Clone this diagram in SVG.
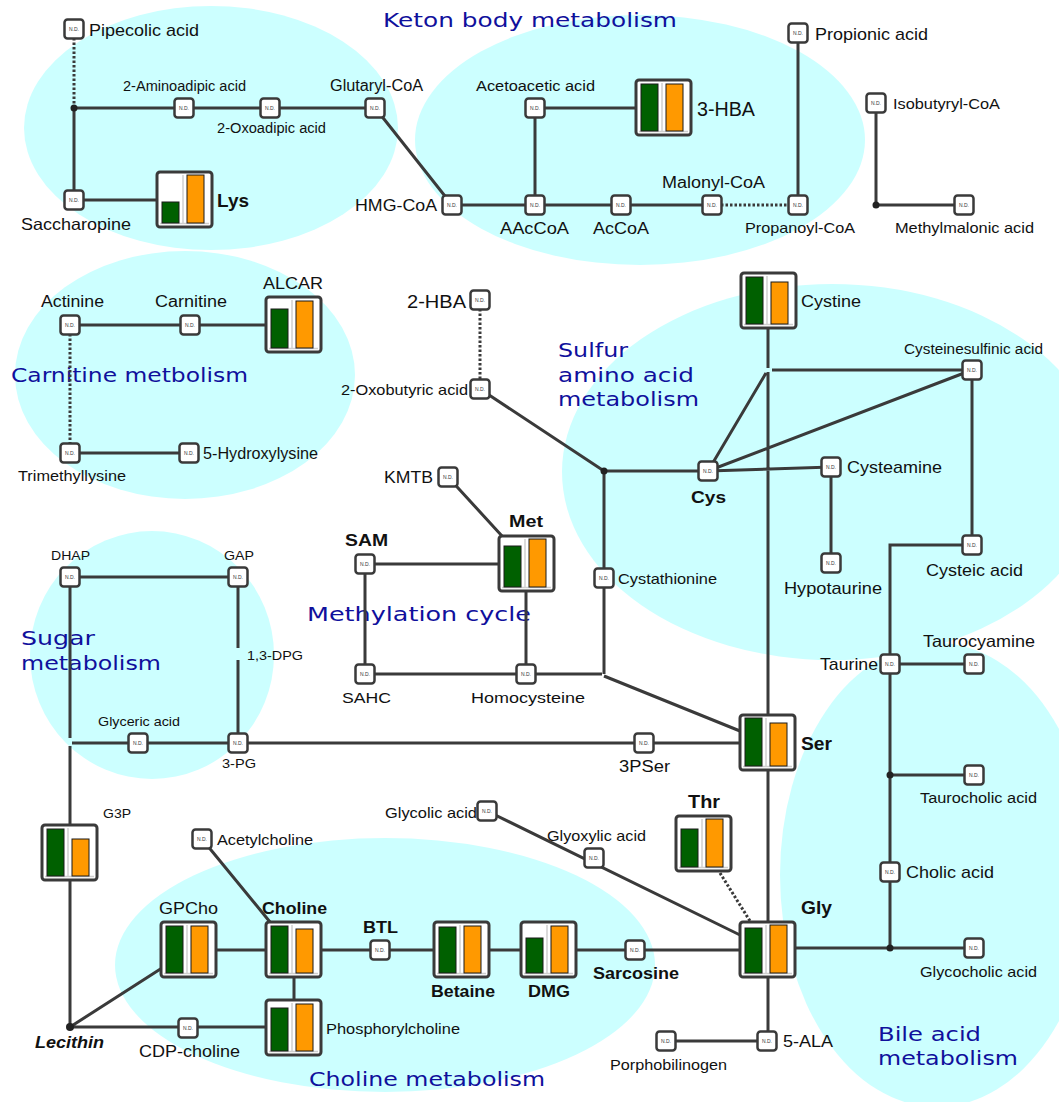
<svg xmlns="http://www.w3.org/2000/svg" xmlns:xlink="http://www.w3.org/1999/xlink" width="1059" height="1102" viewBox="0 0 1059 1102">
<style>
.ell{fill:#ccffff}
.reg{font-family:"DejaVu Sans",sans-serif;fill:#10109c;font-size:19px}
.ln{stroke:#3a3a3a;stroke-width:3;fill:none}
.dt{stroke-dasharray:2.5 2}
.ndr{fill:#fff;stroke:#3a3a3a;stroke-width:2.5}
.ndt{font-family:"Liberation Sans",Arial,sans-serif;font-size:5px;fill:#333;text-anchor:middle}
.lbl{font-family:"Liberation Sans",Arial,sans-serif;fill:#111}
.b{font-weight:bold}
.fr{fill:#fff;stroke:#3a3a3a;stroke-width:3}
.sep{stroke:#cfcfcf;stroke-width:1.5}
.gb{fill:#006000;stroke:#1a1a1a;stroke-width:1}
.ob{fill:#ff9900;stroke:#1a1a1a;stroke-width:1}
.jd{fill:#222}
</style>
<defs>
<g id="nd"><rect class="ndr" x="-9.5" y="-9.5" width="19" height="19" rx="3"/><text class="ndt" y="1.8">N.D.</text></g>
<g id="fr"><rect class="fr" x="0" y="0" width="55" height="55" rx="3"/><line class="sep" x1="26" y1="3" x2="26" y2="51"/><line class="sep" x1="3" y1="51.5" x2="52" y2="51.5"/></g>
</defs>
<rect width="1059" height="1102" fill="#fff"/>
<g id="regions">
<ellipse class="ell" cx="211" cy="128" rx="187" ry="122"/>
<ellipse class="ell" cx="640" cy="140" rx="225" ry="125"/>
<ellipse class="ell" cx="185" cy="375" rx="170" ry="124"/>
<ellipse class="ell" cx="832" cy="472" rx="270" ry="188"/>
<ellipse class="ell" cx="152" cy="655" rx="122" ry="124"/>
<ellipse class="ell" cx="385" cy="965" rx="270" ry="127"/>
<ellipse class="ell" cx="937" cy="875" rx="157" ry="232"/>
<text class="reg" x="383" y="27" textLength="294" lengthAdjust="spacingAndGlyphs">Keton body metabolism</text>
<text class="reg" x="11" y="382" textLength="237" lengthAdjust="spacingAndGlyphs">Carnitine metbolism</text>
<text class="reg" x="558" y="357" textLength="70" lengthAdjust="spacingAndGlyphs">Sulfur</text>
<text class="reg" x="558" y="382" textLength="136" lengthAdjust="spacingAndGlyphs">amino acid</text>
<text class="reg" x="558" y="406" textLength="141" lengthAdjust="spacingAndGlyphs">metabolism</text>
<text class="reg" x="307" y="621" textLength="224" lengthAdjust="spacingAndGlyphs">Methylation cycle</text>
<text class="reg" x="21" y="645" textLength="74" lengthAdjust="spacingAndGlyphs">Sugar</text>
<text class="reg" x="21" y="670" textLength="140" lengthAdjust="spacingAndGlyphs">metabolism</text>
<text class="reg" x="309" y="1086" textLength="236" lengthAdjust="spacingAndGlyphs">Choline metabolism</text>
<text class="reg" x="878" y="1041" textLength="103" lengthAdjust="spacingAndGlyphs">Bile acid</text>
<text class="reg" x="878" y="1065" textLength="140" lengthAdjust="spacingAndGlyphs">metabolism</text>
</g>
<g id="connectors">
<path class="ln dt" d="M74 38V108"/>
<path class="ln" d="M74 108H375M74 108V200H157M380 114L452 205H712"/>
<path class="ln dt" d="M712 205H798"/>
<path class="ln" d="M535 205V108H636M798 33V205M876 103V205H964"/>
<path class="ln" d="M70 325H266"/>
<path class="ln dt" d="M70 334V444"/>
<path class="ln" d="M70 453H189"/>
<path class="ln dt" d="M480 309V380"/>
<path class="ln" d="M480 389L604 471H708M604 471V674M526 674H602M365 674H526M365 564H499M365 564V674M526 591V674M448 477L502 536M604 676L740 731"/>
<path class="ln" d="M768 329V368M768 372V715M772 370H972M766 373L708 471L972 370M708 471L831 467V563M972 370V545H890V948M890 664H974M890 775H974M795 948H974"/>
<path class="ln" d="M70 577H238V648M238 660V743M70 577V738M72 743H740M70 746V825M70 880V1027L162 968M70 1027H266M216 950H266M294 977V1000M202 839L270 922M321 950H434M489 950H521M576 950H740M487 811L740 935M768 770V922M768 977V1041H666"/>
<path class="ln dt" d="M720 873L750 921"/>
<circle class="jd" cx="74" cy="108" r="3.5"/>
<circle class="jd" cx="876" cy="205" r="3.5"/>
<circle class="jd" cx="604" cy="471" r="3.5"/>
<circle class="jd" cx="890" cy="775" r="3.5"/>
<circle class="jd" cx="890" cy="948" r="3.5"/>
<circle class="jd" cx="70" cy="1027" r="4"/>
</g>
<g id="n-pipecolic"><use xlink:href="#nd" x="74" y="29"/><text class="lbl" x="89" y="36" font-size="17" textLength="110" lengthAdjust="spacingAndGlyphs">Pipecolic acid</text></g>
<g id="n-aminoadipic"><use xlink:href="#nd" x="184" y="108"/><text class="lbl" x="123" y="91" font-size="14" textLength="123" lengthAdjust="spacingAndGlyphs">2-Aminoadipic acid</text></g>
<g id="n-oxoadipic"><use xlink:href="#nd" x="270" y="108"/><text class="lbl" x="217" y="133" font-size="14" textLength="109" lengthAdjust="spacingAndGlyphs">2-Oxoadipic acid</text></g>
<g id="n-glutaryl"><use xlink:href="#nd" x="375" y="108"/><text class="lbl" x="330" y="91" font-size="16" textLength="93" lengthAdjust="spacingAndGlyphs">Glutaryl-CoA</text></g>
<g id="n-saccharopine"><use xlink:href="#nd" x="74" y="200"/><text class="lbl" x="21" y="230" font-size="16.5" textLength="110" lengthAdjust="spacingAndGlyphs">Saccharopine</text></g>
<g id="n-lys"><use xlink:href="#fr" x="157" y="172"/><rect class="gb" x="162" y="202" width="17" height="21"/><rect class="ob" x="187" y="175" width="17" height="48"/><text class="lbl b" x="217" y="207" font-size="18" textLength="32" lengthAdjust="spacingAndGlyphs">Lys</text></g>
<g id="n-hmgcoa"><use xlink:href="#nd" x="452" y="205"/><text class="lbl" x="355" y="211" font-size="16.5" textLength="82" lengthAdjust="spacingAndGlyphs">HMG-CoA</text></g>
<g id="n-acetoacetic"><use xlink:href="#nd" x="535" y="108"/><text class="lbl" x="476" y="91" font-size="15.5" textLength="119" lengthAdjust="spacingAndGlyphs">Acetoacetic acid</text></g>
<g id="n-3hba"><use xlink:href="#fr" x="636" y="80"/><rect class="gb" x="641" y="84" width="17" height="47"/><rect class="ob" x="666" y="84" width="17" height="47"/><text class="lbl" x="697" y="116" font-size="20" textLength="58" lengthAdjust="spacingAndGlyphs">3-HBA</text></g>
<g id="n-aaccoa"><use xlink:href="#nd" x="535" y="205"/><text class="lbl" x="500" y="234" font-size="16.5" textLength="69" lengthAdjust="spacingAndGlyphs">AAcCoA</text></g>
<g id="n-accoa"><use xlink:href="#nd" x="621" y="205"/><text class="lbl" x="593" y="234" font-size="16.5" textLength="56" lengthAdjust="spacingAndGlyphs">AcCoA</text></g>
<g id="n-malonyl"><use xlink:href="#nd" x="712" y="205"/><text class="lbl" x="662" y="188" font-size="16" textLength="103" lengthAdjust="spacingAndGlyphs">Malonyl-CoA</text></g>
<g id="n-propanoyl"><use xlink:href="#nd" x="798" y="205"/><text class="lbl" x="745" y="233" font-size="15" textLength="110" lengthAdjust="spacingAndGlyphs">Propanoyl-CoA</text></g>
<g id="n-propionic"><use xlink:href="#nd" x="798" y="33"/><text class="lbl" x="815" y="40" font-size="17" textLength="113" lengthAdjust="spacingAndGlyphs">Propionic acid</text></g>
<g id="n-isobutyryl"><use xlink:href="#nd" x="876" y="103"/><text class="lbl" x="893" y="109" font-size="15" textLength="107" lengthAdjust="spacingAndGlyphs">Isobutyryl-CoA</text></g>
<g id="n-methylmalonic"><use xlink:href="#nd" x="964" y="205"/><text class="lbl" x="895" y="233" font-size="15" textLength="139" lengthAdjust="spacingAndGlyphs">Methylmalonic acid</text></g>
<g id="n-actinine"><use xlink:href="#nd" x="70" y="325"/><text class="lbl" x="41" y="307" font-size="16" textLength="63" lengthAdjust="spacingAndGlyphs">Actinine</text></g>
<g id="n-carnitine"><use xlink:href="#nd" x="190" y="325"/><text class="lbl" x="155" y="307" font-size="16" textLength="72" lengthAdjust="spacingAndGlyphs">Carnitine</text></g>
<g id="n-alcar"><use xlink:href="#fr" x="266" y="297"/><rect class="gb" x="271" y="309" width="17" height="39"/><rect class="ob" x="296" y="301" width="17" height="47"/><text class="lbl" x="263" y="289" font-size="16.5" textLength="60" lengthAdjust="spacingAndGlyphs">ALCAR</text></g>
<g id="n-trimethyllysine"><use xlink:href="#nd" x="70" y="453"/><text class="lbl" x="18" y="481" font-size="15" textLength="108" lengthAdjust="spacingAndGlyphs">Trimethyllysine</text></g>
<g id="n-hydroxylysine"><use xlink:href="#nd" x="189" y="453"/><text class="lbl" x="203" y="459" font-size="16" textLength="115" lengthAdjust="spacingAndGlyphs">5-Hydroxylysine</text></g>
<g id="n-2hba"><use xlink:href="#nd" x="480" y="300"/><text class="lbl" x="407" y="308" font-size="17.5" textLength="59" lengthAdjust="spacingAndGlyphs">2-HBA</text></g>
<g id="n-oxobutyric"><use xlink:href="#nd" x="480" y="389"/><text class="lbl" x="341" y="395" font-size="15" textLength="127" lengthAdjust="spacingAndGlyphs">2-Oxobutyric acid</text></g>
<g id="n-kmtb"><use xlink:href="#nd" x="448" y="477"/><text class="lbl" x="384" y="483" font-size="16.5" textLength="49" lengthAdjust="spacingAndGlyphs">KMTB</text></g>
<g id="n-sam"><use xlink:href="#nd" x="365" y="564"/><text class="lbl b" x="345" y="546" font-size="16.5" textLength="43" lengthAdjust="spacingAndGlyphs">SAM</text></g>
<g id="n-met"><use xlink:href="#fr" x="499" y="536"/><rect class="gb" x="504" y="546" width="17" height="41"/><rect class="ob" x="529" y="539" width="17" height="48"/><text class="lbl b" x="509" y="527" font-size="17" textLength="34" lengthAdjust="spacingAndGlyphs">Met</text></g>
<g id="n-sahc"><use xlink:href="#nd" x="365" y="674"/><text class="lbl" x="342" y="703" font-size="15.5" textLength="49" lengthAdjust="spacingAndGlyphs">SAHC</text></g>
<g id="n-homocysteine"><use xlink:href="#nd" x="526" y="674"/><text class="lbl" x="471" y="703" font-size="15.5" textLength="114" lengthAdjust="spacingAndGlyphs">Homocysteine</text></g>
<g id="n-cystathionine"><use xlink:href="#nd" x="604" y="578"/><text class="lbl" x="618" y="584" font-size="15" textLength="99" lengthAdjust="spacingAndGlyphs">Cystathionine</text></g>
<g id="n-cys"><use xlink:href="#nd" x="708" y="471"/><text class="lbl b" x="691" y="503" font-size="17" textLength="35" lengthAdjust="spacingAndGlyphs">Cys</text></g>
<g id="n-cysteamine"><use xlink:href="#nd" x="831" y="467"/><text class="lbl" x="847" y="473" font-size="17" textLength="95" lengthAdjust="spacingAndGlyphs">Cysteamine</text></g>
<g id="n-hypotaurine"><use xlink:href="#nd" x="831" y="563"/><text class="lbl" x="784" y="594" font-size="17" textLength="98" lengthAdjust="spacingAndGlyphs">Hypotaurine</text></g>
<g id="n-cysteinesulfinic"><use xlink:href="#nd" x="972" y="370"/><text class="lbl" x="904" y="354" font-size="14" textLength="139" lengthAdjust="spacingAndGlyphs">Cysteinesulfinic acid</text></g>
<g id="n-cysteic"><use xlink:href="#nd" x="972" y="545"/><text class="lbl" x="926" y="576" font-size="17" textLength="97" lengthAdjust="spacingAndGlyphs">Cysteic acid</text></g>
<g id="n-cystine"><use xlink:href="#fr" x="741" y="273"/><rect class="gb" x="746" y="277" width="17" height="47"/><rect class="ob" x="771" y="282" width="17" height="42"/><text class="lbl" x="801" y="307" font-size="17" textLength="60" lengthAdjust="spacingAndGlyphs">Cystine</text></g>
<g id="n-taurine"><use xlink:href="#nd" x="890" y="664"/><text class="lbl" x="820" y="670" font-size="17" textLength="58" lengthAdjust="spacingAndGlyphs">Taurine</text></g>
<g id="n-taurocyamine"><use xlink:href="#nd" x="974" y="664"/><text class="lbl" x="923" y="647" font-size="16.5" textLength="112" lengthAdjust="spacingAndGlyphs">Taurocyamine</text></g>
<g id="n-taurocholic"><use xlink:href="#nd" x="974" y="775"/><text class="lbl" x="920" y="803" font-size="15.5" textLength="117" lengthAdjust="spacingAndGlyphs">Taurocholic acid</text></g>
<g id="n-cholic"><use xlink:href="#nd" x="890" y="872"/><text class="lbl" x="906" y="878" font-size="17" textLength="88" lengthAdjust="spacingAndGlyphs">Cholic acid</text></g>
<g id="n-glycocholic"><use xlink:href="#nd" x="974" y="948"/><text class="lbl" x="920" y="977" font-size="15" textLength="117" lengthAdjust="spacingAndGlyphs">Glycocholic acid</text></g>
<g id="n-dhap"><use xlink:href="#nd" x="70" y="577"/><text class="lbl" x="51" y="560" font-size="12.5" textLength="39" lengthAdjust="spacingAndGlyphs">DHAP</text></g>
<g id="n-gap"><use xlink:href="#nd" x="238" y="577"/><text class="lbl" x="224" y="560" font-size="12.5" textLength="30" lengthAdjust="spacingAndGlyphs">GAP</text></g>
<g id="n-13dpg"><text class="lbl" x="247" y="660" font-size="13" textLength="56" lengthAdjust="spacingAndGlyphs">1,3-DPG</text></g>
<g id="n-glyceric"><use xlink:href="#nd" x="138" y="743"/><text class="lbl" x="98" y="726" font-size="13" textLength="82" lengthAdjust="spacingAndGlyphs">Glyceric acid</text></g>
<g id="n-3pg"><use xlink:href="#nd" x="238" y="743"/><text class="lbl" x="222" y="768" font-size="13" textLength="34" lengthAdjust="spacingAndGlyphs">3-PG</text></g>
<g id="n-3pser"><use xlink:href="#nd" x="644" y="743"/><text class="lbl" x="619" y="772" font-size="16" textLength="51" lengthAdjust="spacingAndGlyphs">3PSer</text></g>
<g id="n-ser"><use xlink:href="#fr" x="740" y="715"/><rect class="gb" x="745" y="718" width="17" height="48"/><rect class="ob" x="770" y="723" width="17" height="43"/><text class="lbl b" x="801" y="750" font-size="18" textLength="31" lengthAdjust="spacingAndGlyphs">Ser</text></g>
<g id="n-g3p"><use xlink:href="#fr" x="42" y="825"/><rect class="gb" x="47" y="829" width="17" height="47"/><rect class="ob" x="72" y="839" width="17" height="37"/><text class="lbl" x="103" y="818" font-size="13" textLength="28" lengthAdjust="spacingAndGlyphs">G3P</text></g>
<g id="n-thr"><use xlink:href="#fr" x="676" y="816"/><rect class="gb" x="681" y="829" width="17" height="38"/><rect class="ob" x="706" y="819" width="17" height="48"/><text class="lbl b" x="688" y="808" font-size="18" textLength="32" lengthAdjust="spacingAndGlyphs">Thr</text></g>
<g id="n-glycolic"><use xlink:href="#nd" x="487" y="811"/><text class="lbl" x="385" y="818" font-size="15" textLength="92" lengthAdjust="spacingAndGlyphs">Glycolic acid</text></g>
<g id="n-glyoxylic"><use xlink:href="#nd" x="594" y="858"/><text class="lbl" x="547" y="841" font-size="15" textLength="99" lengthAdjust="spacingAndGlyphs">Glyoxylic acid</text></g>
<g id="n-acetylcholine"><use xlink:href="#nd" x="202" y="839"/><text class="lbl" x="217" y="845" font-size="15.5" textLength="96" lengthAdjust="spacingAndGlyphs">Acetylcholine</text></g>
<g id="n-gpcho"><use xlink:href="#fr" x="161" y="922"/><rect class="gb" x="166" y="926" width="17" height="47"/><rect class="ob" x="191" y="926" width="17" height="47"/><text class="lbl" x="159" y="914" font-size="16" textLength="59" lengthAdjust="spacingAndGlyphs">GPCho</text></g>
<g id="n-choline"><use xlink:href="#fr" x="266" y="922"/><rect class="gb" x="271" y="926" width="17" height="47"/><rect class="ob" x="296" y="929" width="17" height="44"/><text class="lbl b" x="262" y="914" font-size="16" textLength="65" lengthAdjust="spacingAndGlyphs">Choline</text></g>
<g id="n-phosphorylcholine"><use xlink:href="#fr" x="266" y="1000"/><rect class="gb" x="271" y="1008" width="17" height="43"/><rect class="ob" x="296" y="1004" width="17" height="47"/><text class="lbl" x="326" y="1034" font-size="15" textLength="134" lengthAdjust="spacingAndGlyphs">Phosphorylcholine</text></g>
<g id="n-btl"><use xlink:href="#nd" x="380" y="950"/><text class="lbl b" x="363" y="933" font-size="16" textLength="35" lengthAdjust="spacingAndGlyphs">BTL</text></g>
<g id="n-betaine"><use xlink:href="#fr" x="434" y="922"/><rect class="gb" x="439" y="927" width="17" height="46"/><rect class="ob" x="464" y="926" width="17" height="47"/><text class="lbl b" x="431" y="997" font-size="16" textLength="64" lengthAdjust="spacingAndGlyphs">Betaine</text></g>
<g id="n-dmg"><use xlink:href="#fr" x="521" y="922"/><rect class="gb" x="526" y="938" width="17" height="35"/><rect class="ob" x="551" y="926" width="17" height="47"/><text class="lbl b" x="528" y="997" font-size="16.5" textLength="42" lengthAdjust="spacingAndGlyphs">DMG</text></g>
<g id="n-sarcosine"><use xlink:href="#nd" x="635" y="950"/><text class="lbl b" x="593" y="979" font-size="16" textLength="86" lengthAdjust="spacingAndGlyphs">Sarcosine</text></g>
<g id="n-gly"><use xlink:href="#fr" x="740" y="922"/><rect class="gb" x="745" y="928" width="17" height="45"/><rect class="ob" x="770" y="925" width="17" height="48"/><text class="lbl b" x="801" y="914" font-size="18" textLength="31" lengthAdjust="spacingAndGlyphs">Gly</text></g>
<g id="n-cdpcholine"><use xlink:href="#nd" x="188" y="1028"/><text class="lbl" x="139" y="1057" font-size="16" textLength="101" lengthAdjust="spacingAndGlyphs">CDP-choline</text></g>
<g id="n-lecithin"><text class="lbl b" x="35" y="1048" font-size="16" font-style="italic" textLength="69" lengthAdjust="spacingAndGlyphs">Lecithin</text></g>
<g id="n-porphobilinogen"><use xlink:href="#nd" x="666" y="1041"/><text class="lbl" x="610" y="1070" font-size="15" textLength="117" lengthAdjust="spacingAndGlyphs">Porphobilinogen</text></g>
<g id="n-5ala"><use xlink:href="#nd" x="767" y="1041"/><text class="lbl" x="783" y="1047" font-size="17" textLength="50" lengthAdjust="spacingAndGlyphs">5-ALA</text></g>
</svg>
